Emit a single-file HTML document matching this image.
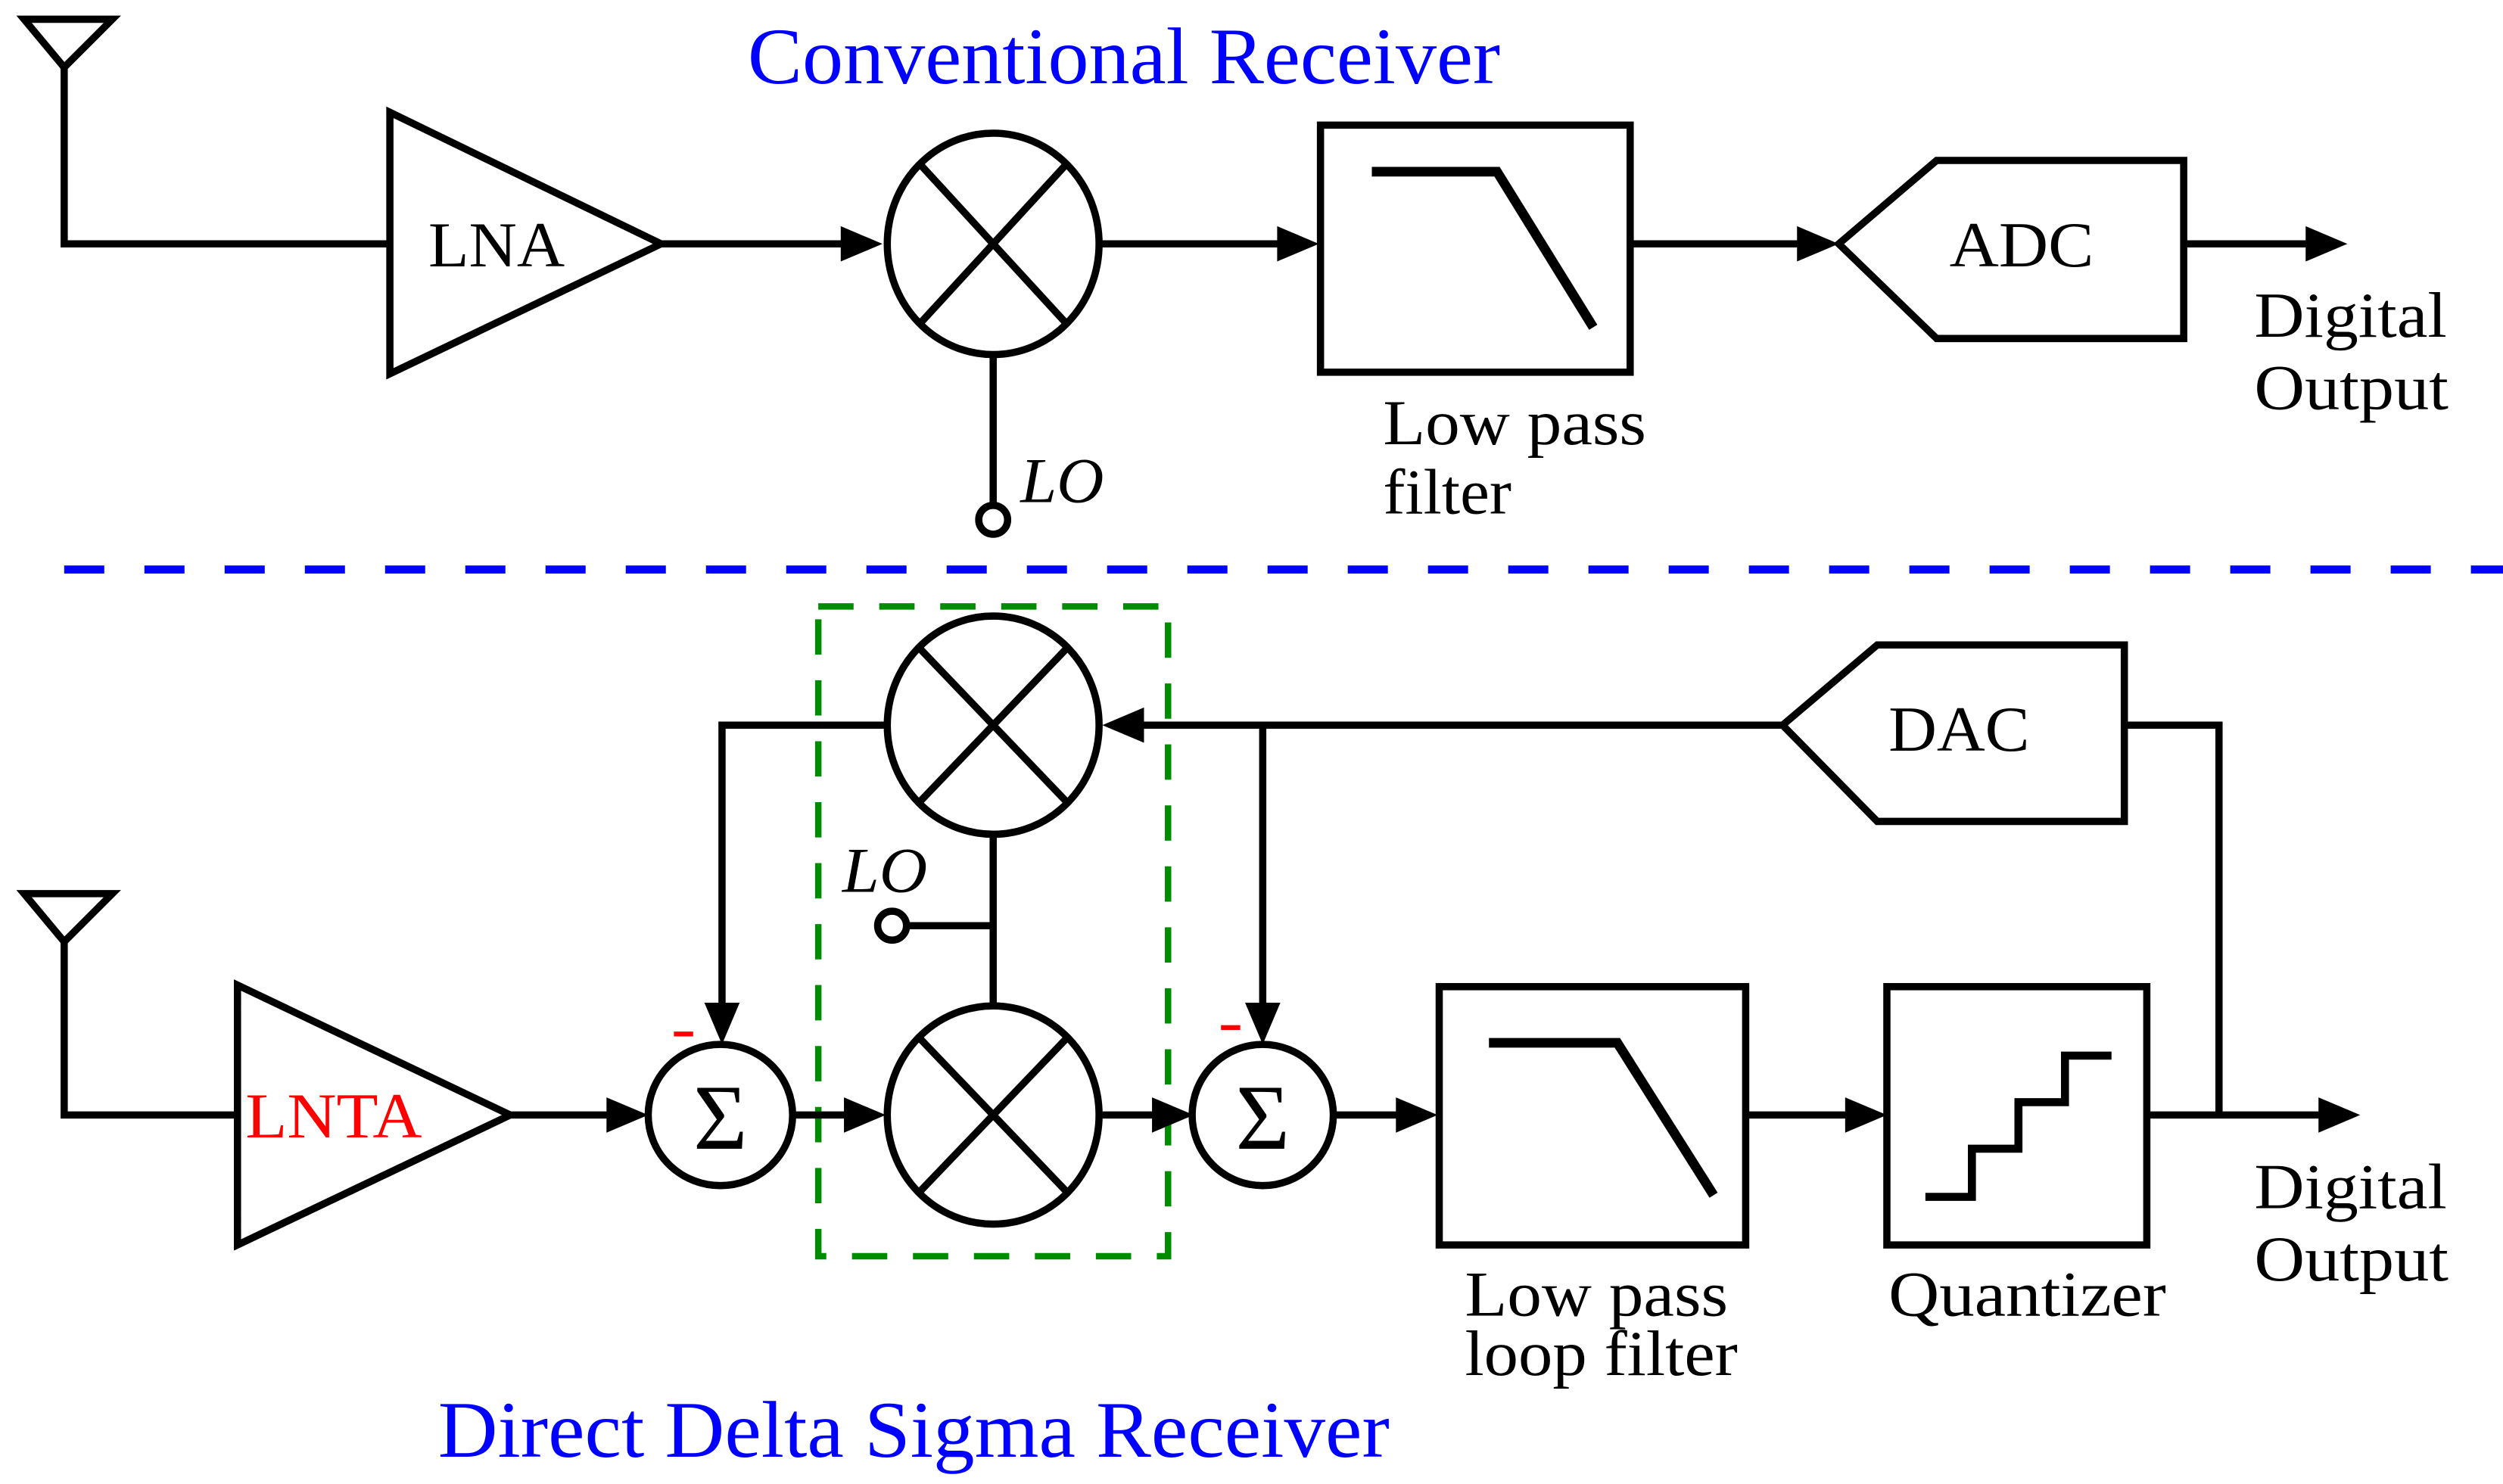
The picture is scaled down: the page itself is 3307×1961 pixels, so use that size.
<!DOCTYPE html>
<html><head><meta charset="utf-8"><style>
html,body{margin:0;padding:0;background:#fff;}
svg{display:block;}
text{font-family:"Liberation Serif",serif;}
</style></head><body>
<svg width="3307" height="1961" viewBox="0 0 1560 925" preserveAspectRatio="none" xmlns="http://www.w3.org/2000/svg">
<g fill="none" stroke="#000" stroke-width="4.5">
<polygon points="15,12 70,12 40,42"/>
<polyline points="40,42 40,152 243,152"/>
<polygon points="243,70 243,233 412,152"/>
<line x1="412" y1="152" x2="528" y2="152"/>
<ellipse cx="619" cy="152" rx="66" ry="69"/>
<line x1="574" y1="103" x2="664" y2="201"/><line x1="664" y1="103" x2="574" y2="201"/>
<line x1="619" y1="221" x2="619" y2="314"/>
<circle cx="619" cy="324" r="9"/>
<line x1="685" y1="152" x2="800" y2="152"/>
<rect x="823" y="78" width="193" height="154"/>
<polyline points="855,107 933,107 993,204" stroke-width="6"/>
<line x1="1016" y1="152" x2="1123" y2="152"/>
<polygon points="1146,152 1207,100 1361,100 1361,211 1207,211"/>
<line x1="1361" y1="152" x2="1440" y2="152"/>
</g>
<g fill="#000">
<polygon points="550,152 524,141 524,163"/>
<polygon points="822,152 796,141 796,163"/>
<polygon points="1146,152 1120,141 1120,163"/>
<polygon points="1463,152 1437,141 1437,163"/>
</g>
<text x="466" y="52" font-size="50" fill="#00f" textLength="469" lengthAdjust="spacingAndGlyphs">Conventional Receiver</text>
<text x="267" y="166" font-size="40" textLength="85" lengthAdjust="spacingAndGlyphs">LNA</text>
<text x="636" y="313" font-size="40" font-style="italic" textLength="52" lengthAdjust="spacingAndGlyphs">LO</text>
<text x="862" y="277" font-size="40" textLength="164" lengthAdjust="spacingAndGlyphs">Low pass</text>
<text x="862" y="320" font-size="40" textLength="80" lengthAdjust="spacingAndGlyphs">filter</text>
<text x="1215" y="166" font-size="40" textLength="90" lengthAdjust="spacingAndGlyphs">ADC</text>
<text x="1405" y="210" font-size="40" textLength="120" lengthAdjust="spacingAndGlyphs">Digital</text>
<text x="1405" y="255" font-size="40" textLength="121" lengthAdjust="spacingAndGlyphs">Output</text>

<line x1="40" y1="355" x2="1560" y2="355" stroke="#00f" stroke-width="5" stroke-dasharray="25,25"/>
<rect x="510" y="378" width="218" height="405" fill="none" stroke="#008c00" stroke-width="4" stroke-dasharray="22,16"/>

<g fill="none" stroke="#000" stroke-width="4.5">
<polygon points="15,557 70,557 40,587"/>
<polyline points="40,587 40,695 148,695"/>
<polygon points="148,614 148,776 318,695"/>
<line x1="318" y1="695" x2="382" y2="695"/>
<ellipse cx="449" cy="695" rx="45" ry="44"/>
<line x1="494" y1="695" x2="530" y2="695"/>
<ellipse cx="619" cy="452" rx="66" ry="68"/>
<line x1="574" y1="405" x2="664" y2="499"/><line x1="664" y1="405" x2="574" y2="499"/>
<ellipse cx="619" cy="695" rx="66" ry="68"/>
<line x1="574" y1="648" x2="664" y2="742"/><line x1="664" y1="648" x2="574" y2="742"/>
<line x1="619" y1="520" x2="619" y2="627"/>
<line x1="565" y1="577" x2="619" y2="577"/>
<circle cx="556" cy="577" r="9"/>
<polyline points="552,452 450,452 450,628"/>
<line x1="685" y1="695" x2="722" y2="695"/>
<ellipse cx="787" cy="695" rx="44" ry="44"/>
<line x1="709" y1="452" x2="1111" y2="452"/>
<line x1="787" y1="452" x2="787" y2="628"/>
<polygon points="1111,452 1170,402 1324,402 1324,512 1170,512"/>
<polyline points="1324,452 1383,452 1383,695"/>
<line x1="831" y1="695" x2="874" y2="695"/>
<rect x="897" y="615" width="191" height="161"/>
<polyline points="928,650 1008,650 1068,745" stroke-width="6"/>
<line x1="1088" y1="695" x2="1153" y2="695"/>
<rect x="1176" y="615" width="162" height="161"/>
<polyline points="1200,746 1229,746 1229,716 1258,716 1258,687 1287,687 1287,658 1316,658" stroke-width="5"/>
<line x1="1338" y1="695" x2="1448" y2="695"/>
</g>
<g fill="#000">
<polygon points="404,695 378,684 378,706"/>
<polygon points="552,695 526,684 526,706"/>
<polygon points="744,695 718,684 718,706"/>
<polygon points="896,695 870,684 870,706"/>
<polygon points="1176,695 1150,684 1150,706"/>
<polygon points="1471,695 1445,684 1445,706"/>
<polygon points="687,452 713,441 713,463"/>
<polygon points="450,651 439,625 461,625"/>
<polygon points="787,651 776,625 798,625"/>
</g>
<text x="449" y="716" font-size="58" text-anchor="middle">Σ</text>
<text x="787" y="716" font-size="58" text-anchor="middle">Σ</text>
<rect x="420" y="643" width="12" height="3" fill="#f00"/>
<rect x="761" y="639" width="12" height="3" fill="#f00"/>
<text x="153" y="709" font-size="40" fill="#f00" textLength="110" lengthAdjust="spacingAndGlyphs">LNTA</text>
<text x="525" y="556" font-size="40" font-style="italic" textLength="53" lengthAdjust="spacingAndGlyphs">LO</text>
<text x="1177" y="468" font-size="40" textLength="88" lengthAdjust="spacingAndGlyphs">DAC</text>
<text x="913" y="820" font-size="40" textLength="164" lengthAdjust="spacingAndGlyphs">Low pass</text>
<text x="913" y="857" font-size="40" textLength="170" lengthAdjust="spacingAndGlyphs">loop filter</text>
<text x="1177" y="820" font-size="40" textLength="173" lengthAdjust="spacingAndGlyphs">Quantizer</text>
<text x="1405" y="753" font-size="40" textLength="120" lengthAdjust="spacingAndGlyphs">Digital</text>
<text x="1405" y="798" font-size="40" textLength="121" lengthAdjust="spacingAndGlyphs">Output</text>
<text x="273" y="908" font-size="50" fill="#00f" textLength="593" lengthAdjust="spacingAndGlyphs">Direct Delta Sigma Receiver</text>
</svg>
</body></html>
